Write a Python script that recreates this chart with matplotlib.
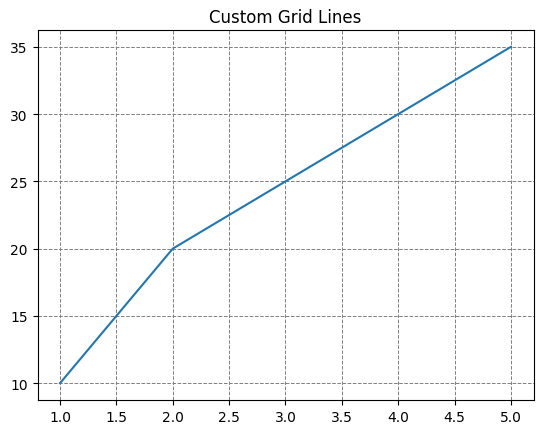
import matplotlib
matplotlib.use("Agg")
import matplotlib.pyplot as plt

x = [1, 2, 3, 4, 5]
y = [10, 20, 25, 30, 35]

fig = plt.figure(figsize=(5.43, 4.35), dpi=100)
ax = fig.add_axes([37.5/543, 1-401/435, (533.5-37.5)/543, (401-31)/435])
ax.plot(x, y)
ax.set_title("Custom Grid Lines")
ax.grid(True, color="gray", linestyle="--", linewidth=0.7)
fig.savefig("out.png", dpi=100)
